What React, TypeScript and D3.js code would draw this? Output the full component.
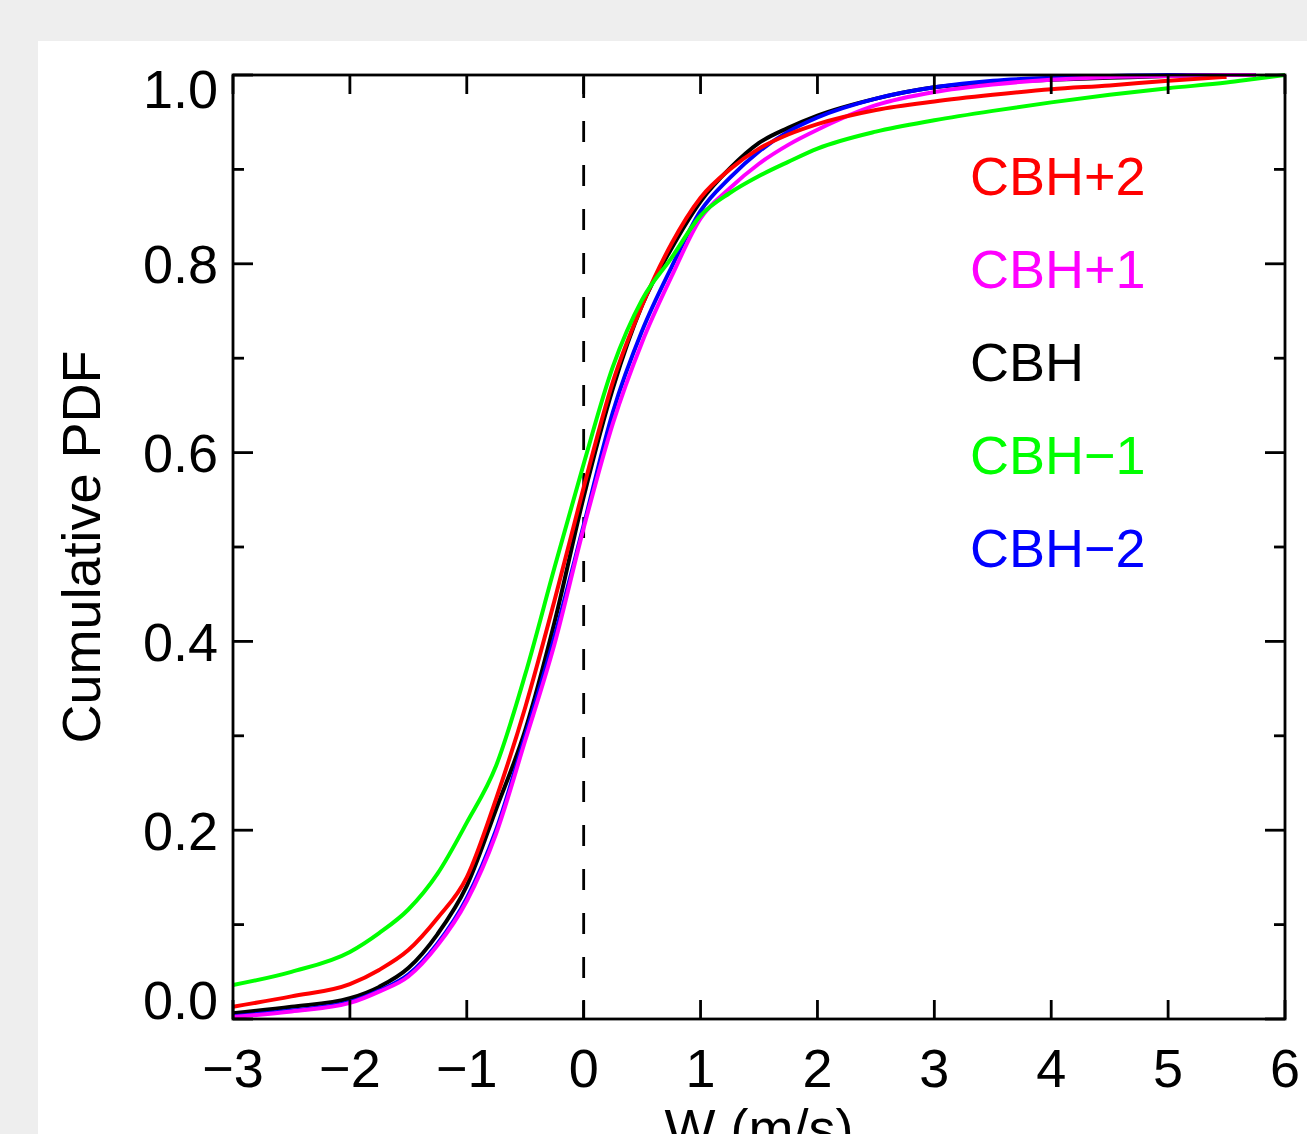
import React from "react";
import * as d3 from "d3";

const xGrid = [-3, -2.5, -2, -1.75, -1.5, -1.25, -1, -0.75, -0.5, -0.25, 0, 0.25, 0.5, 0.75, 1, 1.25, 1.5, 1.75, 2, 2.5, 3, 3.5, 4, 4.5, 5, 5.5, 5.75, 6];

const cbhP2 = [0.013, 0.024, 0.037, 0.052, 0.073, 0.107, 0.150, 0.233, 0.330, 0.443, 0.563, 0.675, 0.756, 0.821, 0.870, 0.900, 0.922, 0.937, 0.948, 0.963, 0.972, 0.979, 0.985, 0.989, 0.994, 0.998, null, null];
const cbhP1 = [0.002, 0.008, 0.017, 0.029, 0.045, 0.078, 0.125, 0.196, 0.295, 0.397, 0.520, 0.631, 0.717, 0.786, 0.848, 0.880, 0.906, 0.926, 0.942, 0.968, 0.982, 0.990, 0.995, 0.998, 0.999, 1.0, 1.0, null];
const cbh0 = [0.006, 0.013, 0.022, 0.034, 0.054, 0.090, 0.141, 0.222, 0.306, 0.420, 0.553, 0.668, 0.756, 0.816, 0.866, 0.901, 0.928, 0.944, 0.957, 0.975, 0.987, 0.992, 0.995, 0.997, 0.999, 1.0, 1.0, null];
const cbhM1 = [0.036, 0.050, 0.071, 0.091, 0.116, 0.154, 0.208, 0.268, 0.365, 0.478, 0.588, 0.691, 0.762, 0.806, 0.851, 0.875, 0.893, 0.908, 0.922, 0.940, 0.952, 0.962, 0.971, 0.979, 0.986, 0.992, 0.996, 1.0];
const cbhM2 = [0.003, 0.009, 0.018, 0.030, 0.047, 0.080, 0.128, 0.200, 0.300, 0.405, 0.523, 0.643, 0.729, 0.796, 0.856, 0.891, 0.919, 0.940, 0.955, 0.975, 0.987, 0.994, 0.997, 0.999, 1.0, 1.0, 1.0, null];

const seriesNames = ["CBH+2", "CBH+1", "CBH", "CBH\u22121", "CBH\u22122"];
const seriesColors = ["#ff0000", "#ff00ff", "#000000", "#00ff00", "#0000ff"];
const seriesValues = [cbhP2, cbhP1, cbh0, cbhM1, cbhM2];
const drawOrder = [2, 4, 1, 0, 3];

const xTicks = [-3, -2, -1, 0, 1, 2, 3, 4, 5, 6];
const yMajorTicks = [0, 0.2, 0.4, 0.6, 0.8, 1.0];
const yMinorTicks = [0.1, 0.3, 0.5, 0.7, 0.9];

const W = 1307;
const H = 1134;
const left = 233, right = 1285, top = 75, bottom = 1019;
const FONT = "'Liberation Sans', Arial, Helvetica, sans-serif";

function fmtX(v: number) {
  return v < 0 ? "\u2212" + Math.abs(v) : String(v);
}

export default function App() {
  const x = d3.scaleLinear().domain([-3, 6]).range([left, right]);
  const y = d3.scaleLinear().domain([0, 1]).range([bottom, top]);
  const line = d3
    .line<[number, number | null]>()
    .defined((d) => d[1] !== null)
    .x((d) => x(d[0]))
    .y((d) => y(d[1] as number))
    .curve(d3.curveMonotoneX);

  const majLen = 20;
  const minLen = 11;
  const xTickLen = 19;
  const axW = 2.8;

  return (
    <svg
      width={W}
      height={H}
      style={{ position: "fixed", left: 0, top: 0, display: "block" }}
      fontFamily={FONT}
    >
      <rect x={0} y={0} width={W} height={H} fill="#eeeeee" />
      <rect x={38} y={41} width={W - 38} height={H - 41} fill="#ffffff" />

      {/* dashed zero line */}
      <line
        x1={x(0)}
        x2={x(0)}
        y1={top + 2}
        y2={bottom}
        stroke="#000"
        strokeWidth={2.8}
        strokeDasharray="21 23"
      />

      {/* data lines */}
      {drawOrder.map((i) => (
        <path
          key={i}
          d={line(xGrid.map((xv, k) => [xv, seriesValues[i][k]] as [number, number | null])) || ""}
          fill="none"
          stroke={seriesColors[i]}
          strokeWidth={4}
          strokeLinejoin="round"
        />
      ))}

      {/* frame */}
      <rect
        x={left}
        y={top}
        width={right - left}
        height={bottom - top}
        fill="none"
        stroke="#000"
        strokeWidth={axW}
      />

      {/* x ticks */}
      {xTicks.map((t) => (
        <g key={"xt" + t}>
          <line x1={x(t)} x2={x(t)} y1={bottom} y2={bottom - xTickLen} stroke="#000" strokeWidth={axW} />
          <line x1={x(t)} x2={x(t)} y1={top} y2={top + xTickLen} stroke="#000" strokeWidth={axW} />
          <text x={x(t)} y={1087} fontSize={54} textAnchor="middle" fill="#000">
            {fmtX(t)}
          </text>
        </g>
      ))}

      {/* y ticks */}
      {yMajorTicks.map((t, i) => {
        let base = y(t) + 19.5;
        if (i === 0) base = y(t);
        if (i === yMajorTicks.length - 1) base = y(t) + 33;
        return (
          <g key={"yt" + t}>
            <line x1={left} x2={left + majLen} y1={y(t)} y2={y(t)} stroke="#000" strokeWidth={axW} />
            <line x1={right} x2={right - majLen} y1={y(t)} y2={y(t)} stroke="#000" strokeWidth={axW} />
            <text x={218} y={base} fontSize={54} textAnchor="end" fill="#000">
              {t.toFixed(1)}
            </text>
          </g>
        );
      })}
      {yMinorTicks.map((t) => (
        <g key={"ym" + t}>
          <line x1={left} x2={left + minLen} y1={y(t)} y2={y(t)} stroke="#000" strokeWidth={axW} />
          <line x1={right} x2={right - minLen} y1={y(t)} y2={y(t)} stroke="#000" strokeWidth={axW} />
        </g>
      ))}

      {/* axis labels */}
      <text
        transform={`translate(100, ${(top + bottom) / 2}) rotate(-90)`}
        fontSize={54}
        textAnchor="middle"
        fill="#000"
      >
        Cumulative PDF
      </text>
      <text x={(left + right) / 2} y={1147} fontSize={54} textAnchor="middle" fill="#000">
        W (m/s)
      </text>

      {/* legend */}
      {seriesNames.map((n, i) => (
        <text key={n} x={970} y={195 + i * 93} fontSize={54} fill={seriesColors[i]}>
          {n}
        </text>
      ))}
    </svg>
  );
}
